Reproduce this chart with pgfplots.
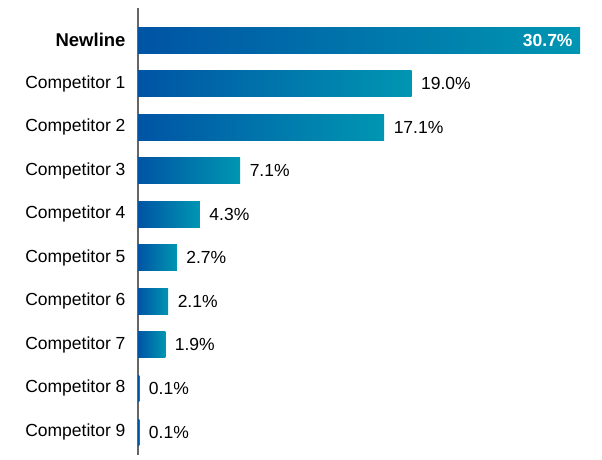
\documentclass[border=0pt]{standalone}
\usepackage{fontspec}
\setmainfont{Liberation Sans}
\usepackage{pgfplots}
\pgfplotsset{compat=1.18}
\definecolor{barL}{HTML}{0054A4}
\definecolor{barR}{HTML}{0096B2}
\definecolor{axgray}{HTML}{666666}
\begin{document}
\begin{tikzpicture}
\path[use as bounding box] (0,0) rectangle (602bp,460bp);
\begin{axis}[
  xbar,
  at={(138bp,5bp)}, anchor=south west,
  scale only axis, width=452bp, height=447bp,
  xmin=0, xmax=31.39,
  ymin=-0.735, ymax=9.528, y dir=reverse,
  axis x line=none,
  axis y line=left,
  y axis line style={-, draw=axgray, line width=1.6bp},
  ytick={0,1,2,3,4,5,6,7,8,9},
  yticklabels={{\fontsize{18.5bp}{20bp}\selectfont\bfseries Newline},Competitor 1,Competitor 2,Competitor 3,Competitor 4,Competitor 5,Competitor 6,Competitor 7,Competitor 8,Competitor 9},
  major tick length=0pt,
  yticklabel style={font=\fontsize{17.5bp}{20bp}\selectfont, text=black, xshift=-9bp},
  /pgf/number format/assume math mode=true,
  cycle list={{mark=none}},
  every axis plot/.append style={mark=none, bar shift=0pt, bar width=26bp, draw=none, left color=barL, right color=barR,
     point meta=x,
     nodes near coords={\pgfmathprintnumber[fixed,fixed zerofill,precision=1,assume math mode=true]{\pgfplotspointmeta}\%},
     nodes near coords style={anchor=west, xshift=6bp, text=black, font=\fontsize{17.5bp}{20bp}\selectfont}},
  clip=false,
]
\addplot+[nodes near coords style={anchor=east, xshift=-10bp, text=white, font=\fontsize{17.5bp}{20bp}\selectfont\bfseries}] coordinates {(30.7,0)};
\addplot coordinates {(19.0,1)};
\addplot coordinates {(17.1,2)};
\addplot coordinates {(7.1,3)};
\addplot coordinates {(4.3,4)};
\addplot coordinates {(2.7,5)};
\addplot coordinates {(2.1,6)};
\addplot coordinates {(1.9,7)};
\addplot coordinates {(0.1,8)};
\addplot coordinates {(0.1,9)};
\end{axis}
\end{tikzpicture}
\end{document}
